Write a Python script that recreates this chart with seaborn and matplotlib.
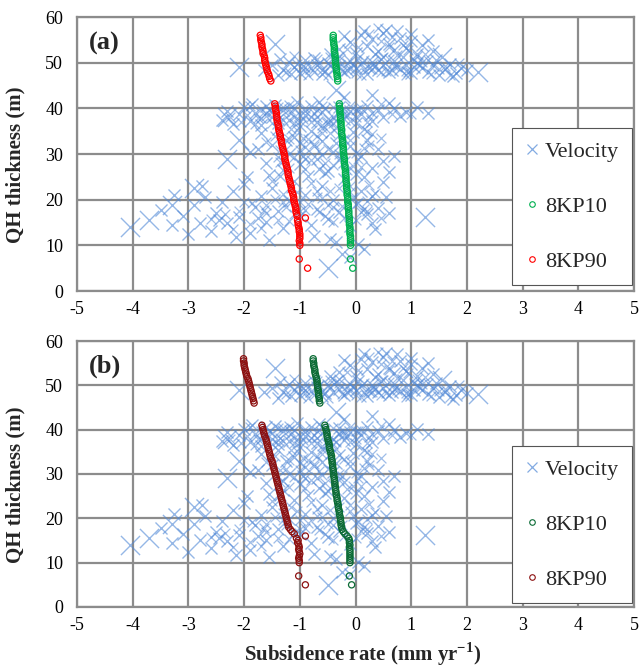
import matplotlib
matplotlib.use('Agg')
import matplotlib.pyplot as plt
from matplotlib.lines import Line2D
import seaborn as sns

# ================== Data ==================
# depths (m) shared by the 8KP10 / 8KP90 profiles
kp_depth = [56.0, 55.5, 55.0, 54.5, 54.0, 53.5, 53.0, 52.5, 52.0, 51.5,
            51.0, 50.5, 50.0, 49.5, 49.0, 48.5, 48.0, 47.5, 47.0, 46.5, 46.0,
            41.0, 40.5, 40.0, 39.5, 39.0, 38.5, 38.0, 37.5, 37.0, 36.5,
            36.0, 35.5, 35.0, 34.5, 34.0, 33.5, 33.0, 32.5, 32.0, 31.5,
            31.0, 30.5, 30.0, 29.5, 29.0, 28.5, 28.0, 27.5, 27.0, 26.5,
            26.0, 25.5, 25.0, 24.5, 24.0, 23.5, 23.0, 22.5, 22.0, 21.5,
            21.0, 20.5, 20.0, 19.5, 19.0, 18.5, 18.0, 17.5, 17.0, 16.5,
            16.0, 15.5, 15.0, 14.5, 14.0, 13.5, 13.0, 12.5, 12.0, 11.5,
            11.0, 10.5, 10.0, 7.0, 5.0]

# panel (a)
kp10_a = [-0.40, -0.40, -0.40, -0.39, -0.39, -0.38, -0.38, -0.38, -0.37, -0.37,
          -0.36, -0.36, -0.36, -0.35, -0.35, -0.34, -0.34, -0.33, -0.33, -0.32, -0.32,
          -0.29, -0.29, -0.28, -0.28, -0.28, -0.27, -0.27, -0.27, -0.26, -0.26,
          -0.26, -0.25, -0.25, -0.25, -0.24, -0.24, -0.23, -0.23, -0.23, -0.22,
          -0.22, -0.22, -0.21, -0.21, -0.20, -0.20, -0.20, -0.19, -0.19, -0.18,
          -0.18, -0.18, -0.17, -0.17, -0.17, -0.16, -0.16, -0.16, -0.15, -0.15,
          -0.15, -0.14, -0.14, -0.14, -0.13, -0.13, -0.13, -0.12, -0.12, -0.12,
          -0.11, -0.11, -0.11, -0.11, -0.10, -0.10, -0.10, -0.10, -0.09, -0.09,
          -0.09, -0.09, -0.09, -0.09, -0.05]
kp90_a = [-1.71, -1.70, -1.70, -1.69, -1.68, -1.68, -1.67, -1.66, -1.66, -1.64,
          -1.63, -1.63, -1.62, -1.61, -1.60, -1.59, -1.58, -1.56, -1.55, -1.54, -1.52,
          -1.45, -1.44, -1.44, -1.43, -1.42, -1.42, -1.41, -1.41, -1.40, -1.39,
          -1.38, -1.38, -1.37, -1.36, -1.35, -1.35, -1.33, -1.33, -1.32, -1.31,
          -1.30, -1.29, -1.28, -1.27, -1.27, -1.26, -1.25, -1.24, -1.23, -1.22,
          -1.21, -1.21, -1.20, -1.19, -1.18, -1.17, -1.16, -1.15, -1.15, -1.13,
          -1.12, -1.11, -1.11, -1.10, -1.09, -1.08, -1.07, -1.07, -1.06, -1.05,
          -0.90, -1.04, -1.03, -1.03, -1.02, -1.01, -1.01, -1.00, -1.00, -1.00,
          -1.01, -1.00, -1.00, -1.01, -0.86]

# panel (b)
kp10_b = [-0.76, -0.76, -0.75, -0.75, -0.74, -0.73, -0.73, -0.72, -0.71, -0.70,
          -0.69, -0.69, -0.68, -0.68, -0.67, -0.67, -0.66, -0.66, -0.65, -0.65, -0.64,
          -0.55, -0.54, -0.53, -0.52, -0.51, -0.51, -0.50, -0.49, -0.48, -0.47,
          -0.47, -0.46, -0.45, -0.44, -0.43, -0.43, -0.42, -0.42, -0.41, -0.41,
          -0.40, -0.40, -0.39, -0.39, -0.38, -0.38, -0.37, -0.37, -0.36, -0.36,
          -0.35, -0.35, -0.34, -0.33, -0.33, -0.32, -0.31, -0.31, -0.30, -0.29,
          -0.29, -0.28, -0.27, -0.27, -0.26, -0.26, -0.25, -0.24, -0.22, -0.19,
          -0.15, -0.12, -0.11, -0.11, -0.10, -0.11, -0.10, -0.10, -0.10, -0.10,
          -0.10, -0.10, -0.10, -0.11, -0.07]
kp90_b = [-2.01, -2.01, -2.00, -2.00, -1.99, -1.98, -1.97, -1.96, -1.95, -1.93,
          -1.92, -1.91, -1.90, -1.89, -1.88, -1.87, -1.86, -1.85, -1.84, -1.83, -1.82,
          -1.68, -1.67, -1.66, -1.65, -1.64, -1.63, -1.61, -1.60, -1.59, -1.58,
          -1.57, -1.56, -1.55, -1.54, -1.53, -1.52, -1.50, -1.49, -1.48, -1.47,
          -1.46, -1.45, -1.44, -1.43, -1.42, -1.41, -1.40, -1.39, -1.38, -1.37,
          -1.36, -1.35, -1.34, -1.33, -1.32, -1.31, -1.30, -1.29, -1.28, -1.27,
          -1.26, -1.25, -1.24, -1.23, -1.22, -1.21, -1.20, -1.17, -1.14, -1.10,
          -0.90, -1.06, -1.03, -1.04, -1.02, -1.01, -1.02, -1.01, -1.00, -1.01,
          -1.02, -1.01, -1.01, -1.02, -0.90]

# velocity points (same in both panels), split by depth band
vel_top_x = [-1.5, -1.3, -1.2, -1.1, -1.0, -0.9, -0.8, -0.7, -0.6, -0.5,
             -0.4, -0.3, -0.2, -0.1, 0.0, 0.1, 0.2, 0.3, 0.4, 0.5,
             0.6, 0.7, 0.8, 0.9, 1.0, 1.1, 1.2, -1.35, -1.15, -0.95,
             -0.75, -0.55, -0.35, -0.15, 0.05, 0.25, 0.45, 0.65, 0.85, 1.05,
             -0.3, -0.1, 0.0, 0.1, 0.2, 0.3, 0.4, 0.5, 0.6, 0.7,
             0.8, 0.9, 1.0, 1.1, 1.2, 1.3, 0.15, 0.55, -0.2, 0.35,
             0.75, 1.0, -0.45, 1.4, -1.65, -1.4, 1.3, 1.4, 1.5, 1.6,
             1.7, 1.8, 1.9, 1.45, 1.75, 2.0]
vel_top_y = [49.5, 48.5, 50.2, 49.0, 47.8, 50.5, 48.8, 49.6, 47.5, 50.0,
             48.6, 49.2, 47.9, 50.4, 48.9, 49.8, 47.6, 50.1, 48.4, 49.5,
             47.9, 50.3, 48.7, 49.6, 47.8, 50.0, 48.9, 50.8, 47.6, 49.3,
             51.0, 48.2, 50.7, 48.4, 51.0, 48.8, 50.9, 48.5, 51.2, 49.0,
             53.0, 54.5, 52.2, 56.0, 53.6, 55.2, 52.5, 56.5, 54.0, 52.8,
             55.5, 53.2, 54.7, 52.0, 53.8, 55.0, 57.0, 57.2, 55.8, 51.8,
             57.0, 56.2, 52.0, 52.5, 48.5, 47.2, 48.0, 49.5, 47.3, 48.6,
             49.8, 47.8, 48.9, 50.5, 47.0, 48.3]

vel_mid_x = [-2.4, -2.3, -2.2, -2.1, -2.0, -1.9, -1.8, -1.7, -1.6, -1.5,
             -1.4, -1.3, -1.2, -1.1, -1.0, -0.9, -0.8, -0.7, -0.6, -0.5,
             -0.4, -0.3, -0.2, -0.1, 0.0, 0.1, 0.2, 0.3, 0.4, 0.5,
             0.7, 0.9, 1.1, 1.3, 0.6, -0.2, 0.3, -1.85, -1.45, -1.05,
             0.8, -0.65,
             -1.9, -1.7, -1.6, -1.5, -1.4, -1.3, -1.2, -1.1, -1.0, -0.9,
             -0.8, -0.7, -0.6, -0.5, -0.4, -0.3, -0.2, -0.1, 0.0, 0.1,
             0.2, 0.3, 0.4, 0.5, 0.6, -1.55, -1.25, -0.95, -0.65, -0.35,
             -0.05, 0.15, -0.85, -1.75, 0.7]
vel_mid_y = [37.5, 39.5, 36.5, 38.8, 40.2, 37.2, 39.0, 36.3, 40.5, 38.0,
             36.8, 39.6, 37.4, 40.0, 36.2, 38.5, 40.6, 37.0, 39.2, 36.5,
             38.0, 40.3, 37.6, 39.4, 36.8, 38.8, 40.6, 37.2, 39.7, 38.2,
             40.0, 39.3, 40.2, 39.0, 41.2, 42.5, 43.0, 41.0, 40.8, 41.5,
             38.3, 41.3,
             30.5, 34.5, 28.0, 32.0, 35.5, 26.5, 30.0, 33.8, 27.8, 31.5,
             35.0, 29.0, 32.8, 26.2, 30.5, 34.2, 28.3, 31.8, 25.6, 29.5,
             33.0, 27.0, 31.0, 28.5, 26.0, 25.5, 33.0, 29.5, 26.8, 32.5,
             34.8, 35.5, 25.2, 31.0, 29.6]

vel_low_x = [-3.5, -3.3, -3.1, -3.0, -2.9, -2.8, -2.7, -2.6, -2.5, -2.4,
             -2.3, -2.2, -2.1, -2.0, -1.9, -1.8, -1.7, -1.6, -1.5, -1.4,
             -1.3, -1.2, -1.1, -1.0, -0.9, -0.8, -0.7, -0.6, -0.5, -0.4,
             -0.3, -0.2, -0.1, 0.0, 0.1, 0.2, 0.3, 0.4, 0.5, 0.6,
             -2.75, -3.25, -1.95, -1.35, -0.75, -0.45, -2.15, -1.55, 0.35, 0.55,
             0.15, -0.55, -1.75, -2.45, 0.3, -0.25, 0.05, -0.35, 0.15, -0.1]
vel_low_y = [17.8, 14.5, 16.5, 12.5, 18.8, 15.0, 20.5, 13.2, 17.0, 19.5,
             14.8, 21.8, 16.3, 23.5, 12.8, 18.5, 20.8, 15.2, 22.5, 17.5,
             13.8, 19.8, 24.2, 16.5, 21.0, 14.5, 18.0, 23.0, 15.8, 20.0,
             17.2, 24.5, 14.2, 19.0, 22.0, 16.8, 20.8, 18.2, 23.8, 17.0,
             23.0, 21.0, 25.0, 25.2, 12.0, 11.5, 11.8, 11.2, 13.5, 20.5,
             25.0, 25.8, 16.0, 15.5, 14.8, 8.0, 10.2, 10.8, 9.2, 7.5]

# extra points packed into the crowded cores (drawn a bit smaller)
dense_top_x = [-1.25, -1.05, -0.85, -0.65, -0.45, -0.25, -0.05, 0.15, 0.35, 0.55,
               0.75, 0.95, 1.15, -1.1, -0.9, -0.7, -0.5, -0.3, -0.1, 0.1,
               0.3, 0.5, 0.7, 0.9, 1.1, 1.3, 1.5, 1.7, 0.05, 0.25,
               0.45, 0.65, 0.85, -0.15, 0.4, 0.6, 0.95, 1.25, 1.6, 1.85,
               -0.9, -0.6, -0.3, 0.0, 0.3, 0.6, 0.9, 1.2, -0.75, -0.45,
               -0.15, 0.15, 0.45, 0.75, 1.05, 1.35]
dense_top_y = [48.0, 49.8, 47.2, 50.0, 49.6, 48.1, 49.6, 50.6, 49.2, 48.2,
               49.0, 48.0, 49.4, 51.4, 48.2, 50.9, 47.2, 51.4, 48.7, 47.4,
               48.6, 51.3, 49.2, 47.4, 51.5, 50.5, 48.7, 47.4, 53.4, 56.3,
               54.8, 55.6, 53.8, 52.9, 57.5, 53.4, 52.8, 51.8, 49.2, 50.0,
               49.0, 48.4, 50.6, 47.8, 49.4, 50.8, 48.2, 50.2, 47.9, 51.2,
               49.9, 48.6, 47.9, 51.6, 50.6, 47.6]

dense_mid_x = [-1.95, -1.75, -1.55, -1.35, -1.15, -0.95, -0.75, -0.55, -0.35, -0.15,
               0.05, 0.25, -1.9, -1.7, -1.5, -1.3, -1.1, -0.9, -0.7, -0.5,
               -0.3, -0.1, 0.1, 0.3, -1.8, -1.6, -1.4, -1.2, -1.0, -0.8,
               -0.6, -0.4, -0.2, 0.0, 0.2, 0.45, 0.65, -2.25, -2.05, 1.0,
               -1.45, -1.25, -1.05, -0.85, -0.65, -0.45, -0.25, -0.05, 0.15, -1.4,
               -1.2, -1.0, -0.8, -0.6, -0.4, -0.2, 0.0, 0.2, -1.35, -1.15,
               -0.95, -0.75, -0.55, -0.35, -0.15, 0.05, 0.25, -1.3, -1.1, -0.9,
               -0.7, -0.5, -0.3, -0.1, 0.1, 0.3, -1.6, -1.0, -0.6, 0.45,
               -1.7, -1.5, -1.3, -1.1, -0.9, -0.7, -0.5, -0.3, -0.1, -1.6,
               -1.4, -1.2, -1.0, -0.8, -0.6, -0.4, -0.2, 0.0, -1.2, -0.9,
               -0.6, -0.3, -1.35, -0.75]
dense_mid_y = [38.6, 37.8, 39.6, 38.2, 39.0, 37.6, 38.9, 40.0, 37.2, 38.6,
               39.8, 38.4, 40.6, 39.8, 36.8, 37.4, 38.2, 40.1, 39.6, 37.6,
               39.2, 37.2, 40.0, 39.0, 36.6, 38.4, 40.4, 40.8, 38.6, 37.0,
               36.4, 40.4, 39.8, 38.0, 37.0, 40.9, 38.8, 38.0, 37.0, 38.8,
               34.0, 31.2, 35.2, 33.2, 30.6, 34.6, 29.6, 27.4, 31.4, 29.4,
               27.0, 32.4, 28.6, 35.6, 27.6, 33.4, 30.2, 35.0, 30.8, 35.4,
               33.6, 31.8, 28.0, 35.6, 26.6, 29.0, 32.0, 28.4, 29.4, 26.8,
               34.0, 31.2, 28.6, 33.0, 27.2, 34.4, 32.6, 30.9, 29.8, 33.6,
               37.9, 39.2, 40.3, 36.9, 39.4, 38.2, 37.0, 39.0, 40.6, 38.9,
               37.6, 39.9, 37.2, 38.2, 40.5, 36.8, 38.7, 39.6, 33.2, 29.0,
               34.5, 30.0, 28.2, 32.2]

dense_low_x = [-2.6, -2.35, -2.1, -1.85, -1.65, -1.45, -1.25, -1.05, -0.85, -0.65,
               -0.45, -0.25, -0.05, 0.15, 0.35, -2.2, -1.9, -1.6, -1.3, -1.0,
               -0.7, -0.4, -0.1, 0.2, 0.45, -1.7, -1.4, -1.1, -0.8, -0.5,
               -0.2, 0.1, -1.5, -1.2, -0.9, -0.6, -0.3, 0.0, 0.25, -2.0,
               -1.6, -1.3, -1.0, -0.7, -0.4, -0.1, 0.2, -1.15, -0.55, 0.05]
dense_low_y = [15.8, 16.8, 17.6, 19.2, 17.8, 20.2, 18.4, 21.6, 19.0, 17.4,
               21.8, 18.6, 20.6, 18.0, 21.4, 13.6, 14.6, 18.8, 21.2, 19.6,
               22.0, 15.2, 23.0, 19.8, 16.0, 13.8, 15.6, 16.8, 23.6, 18.8,
               16.0, 17.2, 24.0, 15.4, 17.8, 20.4, 22.6, 15.6, 23.2, 19.6,
               17.0, 19.6, 17.6, 20.6, 18.4, 21.6, 17.6, 22.6, 16.4, 19.2]

# the few points drawn with a big marker
vel_big_x = [-2.1, -1.45, 2.2, 1.55, -2.3, -2.1, -2.3, -4.05, -3.7, -3.3, 1.25, -0.5, -2.9, -0.35]
vel_big_y = [49.0, 54.0, 48.0, 51.3, 38.0, 33.0, 29.0, 14.0, 15.5, 18.8, 16.2, 5.0, 22.5, 44.0]

x_ticks = [-5, -4, -3, -2, -1, 0, 1, 2, 3, 4, 5]
y_ticks = [0, 10, 20, 30, 40, 50, 60]

# ================== Style ==================
sns.set_theme(style='white')
plt.rcParams['font.family'] = ['Liberation Serif', 'DejaVu Serif']
plt.rcParams['mathtext.fontset'] = 'custom'
plt.rcParams['mathtext.rm'] = 'Liberation Serif'
plt.rcParams['mathtext.bf'] = 'Liberation Serif:bold'
plt.rcParams['axes.unicode_minus'] = False

grid_col = '#8c8c8c'
vel_col = '#4f87d6'

vel_x = vel_top_x + vel_mid_x + vel_low_x
vel_y = vel_top_y + vel_mid_y + vel_low_y
dense_x = dense_top_x + dense_mid_x + dense_low_x
dense_y = dense_top_y + dense_mid_y + dense_low_y

fig = plt.figure(figsize=(6.39, 6.71), dpi=100)
ax_a = fig.add_axes([0.1205, 0.5663, 0.8717, 0.4083])
ax_b = fig.add_axes([0.1205, 0.0954, 0.8717, 0.3964])


def draw_panel(ax, kp10, kp90, c10, c90, tag, legend_y):
    sns.scatterplot(x=dense_x, y=dense_y, marker='x', s=50, color=vel_col,
                    linewidth=0.9, alpha=0.55, ax=ax, legend=False)
    sns.scatterplot(x=vel_x, y=vel_y, marker='x', s=75, color=vel_col,
                    linewidth=1.0, alpha=0.6, ax=ax, legend=False)
    sns.scatterplot(x=vel_big_x, y=vel_big_y, marker='x', s=190, color=vel_col,
                    linewidth=1.0, alpha=0.6, ax=ax, legend=False)
    sns.scatterplot(x=kp10, y=kp_depth, marker='o', s=20, facecolor='none',
                    edgecolor=c10, linewidth=0.9, ax=ax, legend=False)
    sns.scatterplot(x=kp90, y=kp_depth, marker='o', s=20, facecolor='none',
                    edgecolor=c90, linewidth=0.9, ax=ax, legend=False)

    ax.set_xlim(-5, 5)
    ax.set_ylim(0, 60)
    ax.set_xticks(x_ticks)
    ax.set_yticks(y_ticks)
    ax.grid(True, color=grid_col, linewidth=1.6)
    ax.set_axisbelow(True)
    for sp in ax.spines.values():
        sp.set_color(grid_col)
        sp.set_linewidth(1.6)
    ax.tick_params(direction='out', length=5, width=1.5, color=grid_col,
                   labelsize=13, labelcolor='black')
    ax.tick_params(axis='x', pad=2)
    ax.tick_params(axis='y', pad=5)
    ax.set_ylabel('QH thickness (m)', fontsize=15, fontweight='bold')
    ax.yaxis.set_label_coords(-0.092, 0.46)
    ax.set_xlabel('')
    ax.text(0.022, 0.905, tag, transform=ax.transAxes, fontsize=19,
            fontweight='bold', va='center', ha='left')

    handles = [
        Line2D([], [], ls='none', marker='x', color=vel_col, markersize=7,
               markeredgewidth=0.9, alpha=0.7, label='Velocity'),
        Line2D([], [], ls='none', marker='o', markerfacecolor='none',
               markeredgecolor=c10, markersize=4, markeredgewidth=0.8, label='8KP10'),
        Line2D([], [], ls='none', marker='o', markerfacecolor='none',
               markeredgecolor=c90, markersize=4, markeredgewidth=0.8, label='8KP90'),
    ]
    leg = ax.legend(handles=handles, loc='lower right', bbox_to_anchor=(0.997, legend_y),
                    fontsize=16, frameon=True, fancybox=False, framealpha=1,
                    edgecolor='#555555', labelspacing=1.55, handlelength=0.6,
                    handletextpad=0.3, borderpad=0.6, borderaxespad=0)
    leg.get_frame().set_linewidth(0.8)


draw_panel(ax_a, kp10_a, kp90_a, '#00b050', '#ff0000', '(a)', 0.022)
draw_panel(ax_b, kp10_b, kp90_b, '#0b6b35', '#8c1010', '(b)', 0.015)

ax_b.set_xlabel(r'Subsidence rate (mm yr$^{\mathbf{-1}}$)', fontsize=15, fontweight='bold')
ax_b.xaxis.set_label_coords(0.512, -0.125)

fig.savefig('out.png', dpi=100)
